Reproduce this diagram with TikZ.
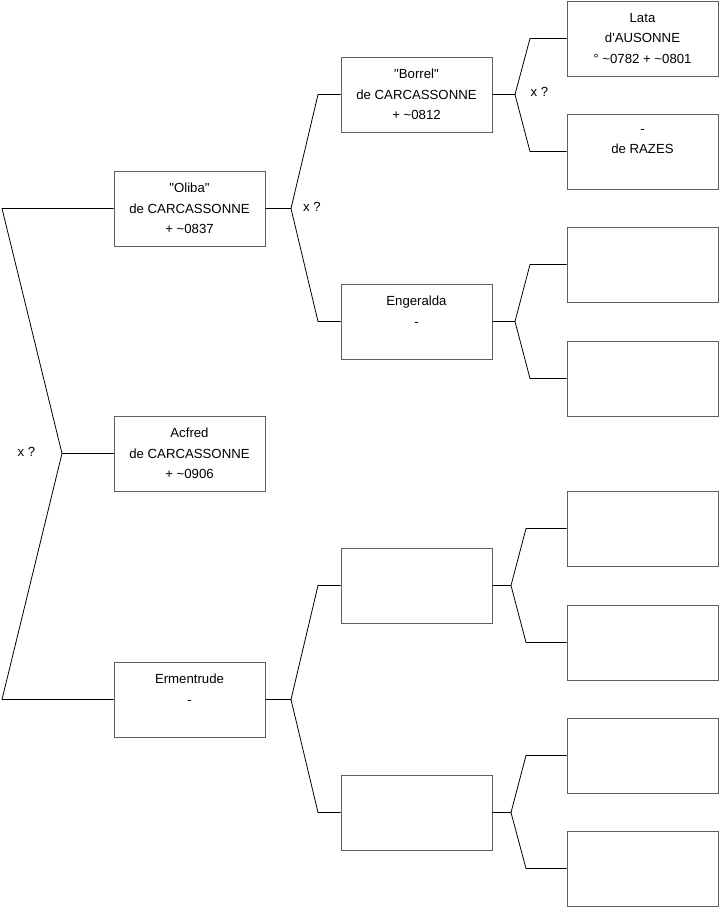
\documentclass[tikz,border=0pt]{standalone}
\usepackage{fontspec}
\setmainfont{Liberation Sans}
\font\qfont="Liberation Sans" at 13.2pt
\newcommand{\dq}{{\qfont"}}
\newcommand{\sq}{{\qfont'}}
\begin{document}
\begin{tikzpicture}[x=1pt,y=-1pt,
  person/.style={draw={rgb,255:red,95;green,95;blue,95}, line width=1pt, minimum width=151pt, minimum height=75pt,
    inner sep=0pt, align=center, font=\fontsize{13.2}{20.5}\selectfont},
  link/.style={draw=black, line width=0.8pt},
  lbl/.style={font=\fontsize{13.2}{15}\selectfont, inner sep=0pt}]
\useasboundingbox (0,0) rectangle (719,908);
% level 1
\node[person] (oliba) at (189.5,208.5) {\dq Oliba\dq\\de CARCASSONNE\\+ \textasciitilde0837};
\node[person] (acfred) at (189.5,453.5) {Acfred\\de CARCASSONNE\\+ \textasciitilde0906};
\node[person] (erm) at (189.5,699.5) {Ermentrude\\-\\~};
% level 2
\node[person] (borrel) at (416.5,94.5) {\dq Borrel\dq\\de CARCASSONNE\\+ \textasciitilde0812};
\node[person] (enge) at (416.5,321.5) {Engeralda\\-\\~};
\node[person] (e1) at (416.5,585.5) {};
\node[person] (e2) at (416.5,812.5) {};
% level 3
\node[person] (lata) at (642.5,38.5) {Lata\\d\sq AUSONNE\\° \textasciitilde0782 + \textasciitilde0801};
\node[person] (razes) at (642.5,151.5) {-\\de RAZES\\~};
\node[person] (f1) at (642.5,264.5) {};
\node[person] (f2) at (642.5,378.5) {};
\node[person] (f3) at (642.5,528.5) {};
\node[person] (f4) at (642.5,642.5) {};
\node[person] (f5) at (642.5,755.5) {};
\node[person] (f6) at (642.5,868.5) {};
% root fork
\coordinate (r0) at (2,208.5);
\coordinate (r1) at (62,453.5);
\coordinate (r2) at (2,699.5);
\draw[link] (oliba.west) -- (r0) -- (r1) -- (r2) -- (erm.west);
\draw[link] (r1) -- (acfred.west);
\node[lbl] (x0) at (26.5,452) {x ?};
% oliba fork
\coordinate (o0) at (291,208.5);
\coordinate (o1) at (318,94.5);
\coordinate (o2) at (318,321.5);
\draw[link] (oliba.east) -- (o0) -- (o1) -- (borrel.west);
\draw[link] (o0) -- (o2) -- (enge.west);
\node[lbl] (x1) at (312,207) {x ?};
% ermentrude fork
\coordinate (m0) at (291,699.5);
\coordinate (m1) at (318,585.5);
\coordinate (m2) at (318,812.5);
\draw[link] (erm.east) -- (m0) -- (m1) -- (e1.west);
\draw[link] (m0) -- (m2) -- (e2.west);
% borrel fork
\coordinate (b0) at (515,94.5);
\coordinate (b1) at (530,38.5);
\coordinate (b2) at (530,151.5);
\draw[link] (borrel.east) -- (b0) -- (b1) -- (lata.west);
\draw[link] (b0) -- (b2) -- (razes.west);
\node[lbl] (x2) at (539.5,92) {x ?};
% engeralda fork
\coordinate (g0) at (515,321.5);
\coordinate (g1) at (530,264.5);
\coordinate (g2) at (530,378.5);
\draw[link] (enge.east) -- (g0) -- (g1) -- (f1.west);
\draw[link] (g0) -- (g2) -- (f2.west);
% e1 fork
\coordinate (p0) at (511,585.5);
\coordinate (p1) at (526,528.5);
\coordinate (p2) at (526,642.5);
\draw[link] (e1.east) -- (p0) -- (p1) -- (f3.west);
\draw[link] (p0) -- (p2) -- (f4.west);
% e2 fork
\coordinate (q0) at (511,812.5);
\coordinate (q1) at (526,755.5);
\coordinate (q2) at (526,868.5);
\draw[link] (e2.east) -- (q0) -- (q1) -- (f5.west);
\draw[link] (q0) -- (q2) -- (f6.west);
\end{tikzpicture}
\end{document}
